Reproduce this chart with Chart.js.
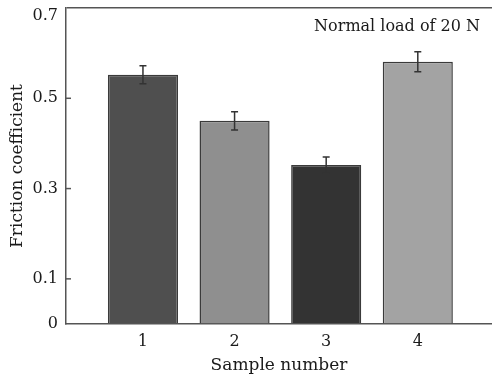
<!DOCTYPE html>
<html>
<head>
<meta charset="utf-8">
<script src="https://cdn.jsdelivr.net/npm/chart.js@4/dist/chart.umd.min.js"></script>
<style>
  html, body { margin: 0; padding: 0; background: #fff; }
  #wrap { width: 492px; height: 378px; }
</style>
</head>
<body>
<div id="wrap"><canvas id="friction"></canvas></div>
<script>
// data
var samples = [1, 2, 3, 4];
var friction = [0.552, 0.450, 0.352, 0.581];
var errors = [0.02, 0.02, 0.018, 0.022];
var yTicks = [0, 0.1, 0.3, 0.5, 0.7];
var barColors = ["#4f4f4f", "#8f8f8f", "#333333", "#a3a3a3"];
var note = "Normal load of 20 N";

var serif = "'DejaVu Serif', 'Liberation Serif', serif";
var yMax = yTicks[yTicks.length - 1];

// error bars, inward tick marks, the top tick label and the note
var extras = {
    id: "extras",
    afterDatasetsDraw: function (chart) {
        var ctx = chart.ctx;
        var xs = chart.scales.x, ys = chart.scales.y;
        ctx.save();
        ctx.strokeStyle = "#333";
        ctx.lineWidth = 1.5;
        for (var i = 0; i < samples.length; i++) {
            var x = xs.getPixelForValue(samples[i]);
            var top = ys.getPixelForValue(friction[i] + errors[i]);
            var bot = ys.getPixelForValue(friction[i] - errors[i]);
            ctx.beginPath();
            ctx.moveTo(x, top); ctx.lineTo(x, bot);
            ctx.moveTo(x - 3.5, top); ctx.lineTo(x + 3.5, top);
            ctx.moveTo(x - 3.5, bot); ctx.lineTo(x + 3.5, bot);
            ctx.stroke();
        }
        // small ticks pointing into the plot
        ctx.strokeStyle = "#555";
        yTicks.forEach(function (v) {
            if (v === 0 || v === yMax) return;
            var y = ys.getPixelForValue(v);
            ctx.beginPath();
            ctx.moveTo(xs.left, y); ctx.lineTo(xs.left + 5, y);
            ctx.stroke();
        });
        ctx.fillStyle = "#1a1a1a";
        // top tick label sits a little below the frame line
        ctx.font = "16px " + serif;
        ctx.textAlign = "right";
        ctx.textBaseline = "middle";
        ctx.fillText(yMax.toFixed(1), ys.right - 8, ys.getPixelForValue(yMax) + 8);
        // note in the upper right
        ctx.fillText(note, 480, chart.chartArea.top + 19);
        ctx.restore();
    }
};

var ctx = document.getElementById("friction").getContext("2d");
var chart = new Chart(ctx, {
    type: "bar",
    data: {
        datasets: [{
            data: samples.map(function (s, i) { return { x: s, y: friction[i] }; }),
            backgroundColor: barColors,
            borderColor: "#3a3a3a",
            borderWidth: 1.5,
            barPercentage: 0.765,
            categoryPercentage: 1
        }]
    },
    options: {
        responsive: true,
        maintainAspectRatio: false,
        animation: false,
        layout: { autoPadding: false, padding: { top: 8, right: 0, left: 0, bottom: 0 } },
        plugins: {
            legend: { display: false },
            tooltip: { enabled: false }
        },
        scales: {
            x: {
                type: "linear",
                offset: false,
                min: 0.16,
                max: 4.81,
                afterBuildTicks: function (scale) {
                    scale.ticks = samples.map(function (v) { return { value: v }; });
                },
                afterFit: function (scale) {
                    scale.height = 54;
                    scale.paddingLeft = 0; scale.paddingRight = 0;
                },
                grid: { display: false, drawTicks: false },
                border: { display: true, color: "#555", width: 1.5 },
                ticks: {
                    color: "#1a1a1a",
                    padding: 8,
                    font: { family: serif, size: 16 }
                },
                title: {
                    display: true,
                    text: "Sample number",
                    color: "#1a1a1a",
                    font: { family: serif, size: 17 },
                    padding: { top: 0, bottom: 2 }
                }
            },
            y: {
                min: 0,
                max: yMax,
                afterBuildTicks: function (scale) {
                    scale.ticks = yTicks.map(function (v) { return { value: v }; });
                },
                afterFit: function (scale) {
                    scale.width = 66;
                    scale.paddingTop = 0; scale.paddingBottom = 0;
                },
                grid: {
                    drawTicks: false,
                    color: function (c) { return c.tick && c.tick.value === yMax ? "#555" : "rgba(0,0,0,0)"; },
                    lineWidth: 1.5
                },
                border: { display: true, color: "#555", width: 1.5 },
                ticks: {
                    color: "#1a1a1a",
                    padding: 8,
                    font: { family: serif, size: 16 },
                    callback: function (v) {
                        if (v === yMax) return "";
                        return v === 0 ? "0" : v.toFixed(1);
                    }
                },
                title: {
                    display: true,
                    text: "Friction coefficient",
                    color: "#1a1a1a",
                    font: { family: serif, size: 17 },
                    padding: { top: 7, bottom: 0 }
                }
            }
        }
    },
    plugins: [extras]
});
</script>
</body>
</html>
